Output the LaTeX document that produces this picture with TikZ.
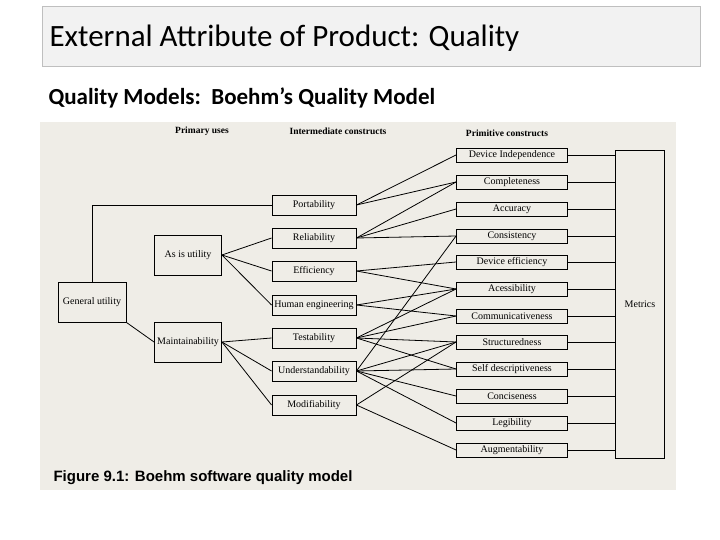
\documentclass[tikz,border=0pt]{standalone}
\usepackage{fontspec}
\setmainfont{Carlito}
\newfontfamily\figfont{Liberation Serif}
\newfontfamily\capfont{Liberation Sans}
\definecolor{paper}{HTML}{EFEDE7}
\tikzset{
  box/.style={draw,line width=0.9pt,fill=paper,inner sep=0pt,font=\figfont\fontsize{10}{11}\selectfont},
  mid/.style={box,minimum width=84pt,minimum height=20pt},
  prim/.style={box,minimum width=111pt,minimum height=14pt},
  link/.style={line width=0.8pt}
}
\begin{document}
\begin{tikzpicture}[x=1pt,y=-1pt]
    \useasboundingbox (0,0) rectangle (720,540);
    % Title and subtitle
    \node[draw=gray!50,line width=1.2pt,fill=gray!10,minimum width=658pt,minimum height=60pt,anchor=north west] (title) at (42,6) {};
    \node[anchor=west,font=\fontsize{31}{36}\selectfont] (ttext) at (46,38) {External Attribute of Product: Quality};
    \node[anchor=west,font=\bfseries\fontsize{23}{27}\selectfont] (sub) at (45,98) {Quality Models:\ \ Boehm’s Quality Model};
    % Figure background
    \fill[paper] (40,122) rectangle (676,490);
    % Column headers
    \node[font=\figfont\bfseries\fontsize{9.5}{10}\selectfont] (h1) at (202,131) {Primary uses};
    \node[font=\figfont\bfseries\fontsize{9.5}{10}\selectfont] (h2) at (338,131) {Intermediate constructs};
    \node[font=\figfont\bfseries\fontsize{9.5}{10}\selectfont] (h3) at (507,133) {Primitive constructs};
    % Primary uses
    \node[box,minimum width=68pt,minimum height=40pt] (gen) at (92,302) {General utility};
    \node[box,minimum width=67pt,minimum height=40pt] (asis) at (188,255) {As is utility};
    \node[box,minimum width=67pt,minimum height=40pt] (maint) at (188,342) {Maintainability};
    % Intermediate constructs
    \node[mid] (port) at (314,205) {Portability};
    \node[mid] (reli) at (314,238) {Reliability};
    \node[mid] (effi) at (314,271) {Efficiency};
    \node[mid] (huma) at (314,305) {Human engineering};
    \node[mid] (test) at (314,338) {Testability};
    \node[mid] (unde) at (314,371) {Understandability};
    \node[mid] (modi) at (314,405) {Modifiability};
    % Primitive constructs
    \node[prim] (devi) at (512,155) {Device Independence};
    \node[prim] (comp) at (512,182) {Completeness};
    \node[prim] (accu) at (512,209) {Accuracy};
    \node[prim] (cons) at (512,236) {Consistency};
    \node[prim] (deff) at (512,262) {Device efficiency};
    \node[prim] (acce) at (512,289) {Acessibility};
    \node[prim] (comm) at (512,316) {Communicativeness};
    \node[prim] (stru) at (512,342) {Structuredness};
    \node[prim] (self) at (512,369) {Self descriptiveness};
    \node[prim] (conc) at (512,396) {Conciseness};
    \node[prim] (legi) at (512,423) {Legibility};
    \node[prim] (augm) at (512,450) {Augmentability};
    % Metrics
    \node[box,minimum width=49pt,minimum height=308pt] (metr) at (640,304) {Metrics};
    % Primary links
    \draw[link] (gen.north) |- (port.west);
    \draw[link] (gen.south east) -- (maint.west);
    \foreach \t in {reli,effi,huma} \draw[link] (asis.east) -- (\t.west);
    \foreach \t in {test,unde,modi} \draw[link] (maint.east) -- (\t.west);
    % Intermediate to primitive
    \foreach \s/\t in {port/devi,port/comp,reli/comp,reli/accu,reli/cons,
                       effi/deff,effi/acce,huma/acce,huma/comm,
                       test/acce,test/comm,test/stru,test/self,
                       unde/cons,unde/stru,unde/self,unde/conc,unde/legi,
                       modi/stru,modi/augm}
        \draw[link] (\s.east) -- (\t.west);
    % Primitive to metrics
    \foreach \p in {devi,comp,accu,cons,deff,acce,comm,stru,self,conc,legi,augm}
        \draw[link] (\p.east) -- (\p.east -| metr.west);
    % Caption
    \node[anchor=west,font=\capfont\bfseries\fontsize{15}{17}\selectfont] (cap) at (50,478) {Figure 9.1: Boehm software quality model};
\end{tikzpicture}
\end{document}
